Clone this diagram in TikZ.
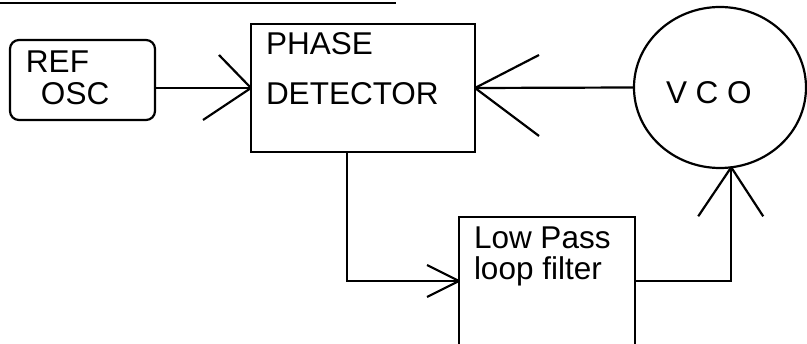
\documentclass[tikz,border=0pt]{standalone}
\usepackage{fontspec}
\setmainfont{Liberation Sans}
\usetikzlibrary{shapes.geometric}
\begin{document}
\begin{tikzpicture}[x=1pt,y=-1pt,
  line width=2.2pt,
  blk/.style={draw,rectangle,inner sep=0pt,outer sep=0pt},
  lbl/.style={anchor=base west,inner sep=0pt,outer sep=0pt,font=\fontsize{31.5}{37}\selectfont}]
\useasboundingbox (0,0) rectangle (807,344);
% underline of the cropped title
\draw[line width=2.5pt] (0,3) -- (396,3);
% blocks
\node[blk,rounded corners=9pt,minimum width=145pt,minimum height=80pt] (ref) at (82.5,80) {};
\node[blk,minimum width=224pt,minimum height=128pt] (pd) at (363,88) {};
\node[draw,ellipse,inner sep=0pt,outer sep=0pt,minimum width=172pt,minimum height=161pt] (vco) at (720,87.5) {};
\node[blk,minimum width=176pt,minimum height=128pt] (lp) at (547,281) {};
% labels
\node[lbl] (t1) at (26,73) {REF};
\node[lbl] (t2) at (41,105) {OSC};
\node[lbl] (t3) at (266,55) {PHASE};
\node[lbl] (t4) at (266,105) {DETECTOR};
\node[lbl] (t5) at (666,104) {V C O};
\node[lbl] (t6) at (474,249) {Low Pass};
\node[lbl] (t7) at (474,280) {loop filter};
% connectors
\coordinate (pdout) at ([xshift=-16pt]pd.south);
\coordinate (vcoin) at (vco.-82);
\draw (ref.east |- pd.west) -- (pd.west);
\draw (pd.west) -- ++(-32,-33);
\draw (pd.west) -- ++(-48,32);
\draw (vco.west) -- (pd.east);
\draw (pd.east) -- ++(64,-33);
\draw (pd.east) -- ++(64,48);
\draw (pdout) |- (lp.west);
\draw (lp.west) -- ++(-32,-16);
\draw (lp.west) -- ++(-32,16);
\draw (lp.east) -| (vcoin);
\draw (vcoin) -- ++(-33,49);
\draw (vcoin) -- ++(32,49);
\end{tikzpicture}
\end{document}
